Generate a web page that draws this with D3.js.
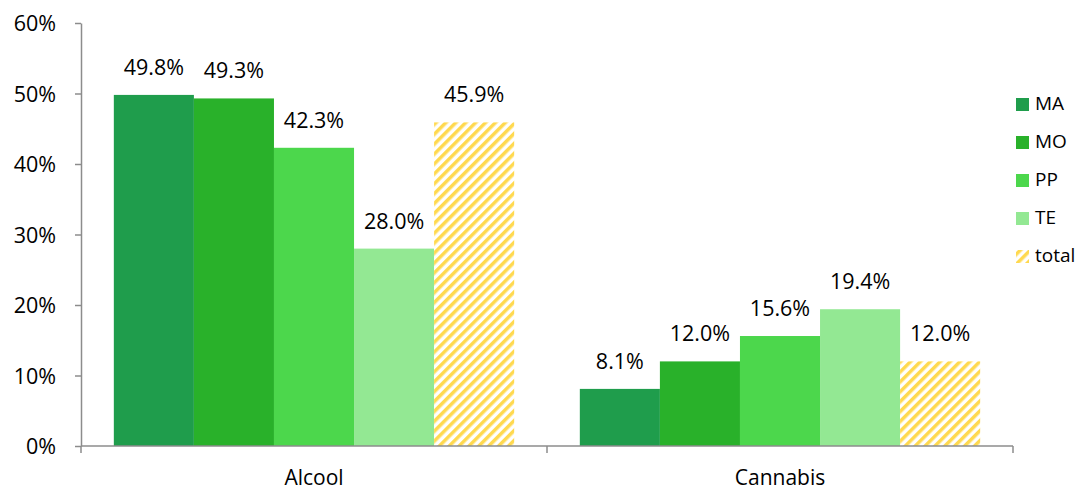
<!DOCTYPE html>
<html>
<head>
<meta charset="utf-8">
<script src="https://cdn.jsdelivr.net/npm/d3@7"></script>
<style>
  html, body { margin: 0; padding: 0; background: #fff; }
  svg text { font-family: "Open Sans", Lato, "Liberation Sans", sans-serif; fill: #000; }
</style>
</head>
<body>
<svg id="chart" width="1079" height="491"></svg>
<script>
// Substances on the x axis
const categories = ["Alcool", "Cannabis"];
// Groups shown as bars within each substance
const groups = ["MA", "MO", "PP", "TE", "total"];
// Percent values per group, in category order
const valuesMA = [49.8, 8.1];
const valuesMO = [49.3, 12.0];
const valuesPP = [42.3, 15.6];
const valuesTE = [28.0, 19.4];
const valuesTotal = [45.9, 12.0];
const yTicks = [0, 10, 20, 30, 40, 50, 60];

const seriesValues = [valuesMA, valuesMO, valuesPP, valuesTE, valuesTotal];
const colors = ["#1f9d4c", "#29b12a", "#4cd74c", "#93e893", "url(#hatch)"];

const svg = d3.select("#chart");
const margin = { left: 81, right: 66, top: 23, bottom: 45 };
const W = 1079, H = 491;
const FONT = 21.5;

// Diagonal yellow hatching for the total series
const defs = svg.append("defs");
const pat = defs.append("pattern")
  .attr("id", "hatch")
  .attr("patternUnits", "userSpaceOnUse")
  .attr("width", 7).attr("height", 7)
  .attr("patternTransform", "rotate(45)");
pat.append("rect").attr("width", 7).attr("height", 7).attr("fill", "#fff");
pat.append("rect").attr("x", 0).attr("y", 0).attr("width", 3.5).attr("height", 7).attr("fill", "#ffd94f");

const x0 = d3.scaleBand()
  .domain(categories)
  .range([margin.left, W - margin.right])
  .paddingInner(0)
  .paddingOuter(0);

const x1 = d3.scaleBand()
  .domain(groups)
  .range([0, x0.bandwidth()])
  .paddingOuter(0.41)
  .paddingInner(0);

const y = d3.scaleLinear()
  .domain([0, 60])
  .range([H - margin.bottom, margin.top]);

// Bars and value labels
categories.forEach((cat, ci) => {
  const g = svg.append("g").attr("transform", `translate(${x0(cat)},0)`);
  groups.forEach((grp, gi) => {
    const v = seriesValues[gi][ci];
    g.append("rect")
      .attr("x", x1(grp))
      .attr("y", y(v))
      .attr("width", x1.bandwidth())
      .attr("height", y(0) - y(v))
      .attr("fill", colors[gi]);
    g.append("text")
      .attr("x", x1(grp) + x1.bandwidth() / 2)
      .attr("y", y(v) - 20)
      .attr("text-anchor", "middle")
      .attr("font-size", FONT)
      .text(v.toFixed(1) + "%");
  });
});

// Y axis
const yAxis = d3.axisLeft(y)
  .tickValues(yTicks)
  .tickFormat(d => d + "%")
  .tickSize(6)
  .tickSizeOuter(0);
const ya = svg.append("g")
  .attr("transform", `translate(${margin.left},0)`)
  .call(yAxis);
ya.select(".domain").attr("stroke", "#8c8c8c").attr("stroke-width", 1.5);
ya.selectAll(".tick line").attr("stroke", "#8c8c8c").attr("stroke-width", 1.5);
ya.selectAll(".tick text")
  .attr("x", -25)
  .attr("dy", "0.36em")
  .attr("font-size", FONT)
  .attr("font-family", "'Open Sans', Lato, sans-serif")
  .attr("fill", "#000");

// X axis with category separators
const xa = svg.append("g")
  .attr("transform", `translate(0,${y(0)})`);
xa.append("line")
  .attr("x1", margin.left).attr("x2", W - margin.right)
  .attr("stroke", "#8c8c8c").attr("stroke-width", 1.5);
const seps = [margin.left].concat(categories.map(c => x0(c) + x0.bandwidth()));
xa.selectAll("line.sep").data(seps).enter().append("line")
  .attr("class", "sep")
  .attr("x1", d => d).attr("x2", d => d)
  .attr("y1", 0).attr("y2", 7)
  .attr("stroke", "#8c8c8c").attr("stroke-width", 1.5);
xa.selectAll("text.cat").data(categories).enter().append("text")
  .attr("class", "cat")
  .attr("x", d => x0(d) + x0.bandwidth() / 2)
  .attr("y", 39)
  .attr("text-anchor", "middle")
  .attr("font-size", 21)
  .text(d => d);

// Legend
const legend = svg.append("g").attr("transform", "translate(1016,110)");
groups.forEach((grp, gi) => {
  const row = legend.append("g").attr("transform", `translate(0,${gi * 38})`);
  row.append("rect")
    .attr("y", -12)
    .attr("width", 13).attr("height", 13)
    .attr("fill", colors[gi]);
  row.append("text")
    .attr("x", 19).attr("y", 0)
    .attr("font-size", 19)
    .text(grp);
});
</script>
</body>
</html>
